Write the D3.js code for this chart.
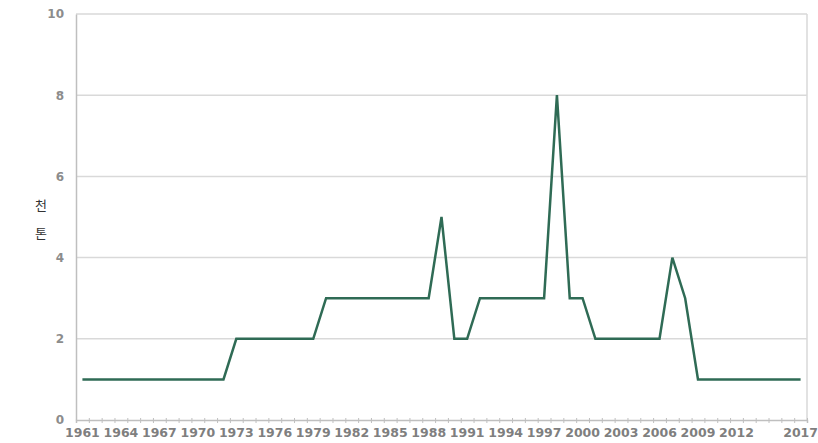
<!DOCTYPE html>
<html>
	<head>
		<meta charset="utf-8">
		<title>천 톤</title>
		<script src="https://cdn.jsdelivr.net/npm/d3@7"></script>
		<style>
			body { margin: 0; background: #fff; }
		</style>
	</head>
	<body>
		<div id='viz'></div>
		<script>
			var width = 818,
				height = 443;
			var years = ['1961','1962','1963','1964','1965','1966','1967','1968','1969','1970',
				'1971','1972','1973','1974','1975','1976','1977','1978','1979','1980',
				'1981','1982','1983','1984','1985','1986','1987','1988','1989','1990',
				'1991','1992','1993','1994','1995','1996','1997','1998','1999','2000',
				'2001','2002','2003','2004','2005','2006','2007','2008','2009','2010',
				'2011','2012','2013','2014','2015','2016','2017'];
			var values = [1,1,1,1,1,1,1,1,1,1,
				1,1,2,2,2,2,2,2,2,3,
				3,3,3,3,3,3,3,3,5,2,
				2,3,3,3,3,3,3,8,3,3,
				2,2,2,2,2,2,4,3,1,1,
				1,1,1,1,1,1,1];
			var xLabels = ['1961','1964','1967','1970','1973','1976','1979','1982','1985',
				'1988','1991','1994','1997','2000','2003','2006','2009','2012','2017'];
			var yTicks = [0,2,4,6,8,10];
			var yTitle = ['천','톤'];

			// plot box (note: "top" is reserved on window, so use mTop)
			var mLeft = 76, mRight = 807, mTop = 14, mBottom = 420;

			var x = d3.scaleBand().domain(years).range([mLeft, mRight]).padding(0);
			var xEdge = d3.scaleLinear().domain([0, years.length]).range([mLeft, mRight]);
			var y = d3.scaleLinear().domain([0, 10]).range([mBottom, mTop]);

			var svg = d3.select('#viz')
				.append('svg')
				.attr('width', width)
				.attr('height', height);

			// gridlines
			svg.append('g')
				.selectAll('line')
				.data(yTicks.filter(d => d > 0))
				.join('line')
				.attr('x1', mLeft).attr('x2', mRight)
				.attr('y1', d => y(d)).attr('y2', d => y(d))
				.attr('stroke', '#d9d9d9')
				.attr('stroke-width', 1.5);

			// right border
			svg.append('line')
				.attr('x1', mRight).attr('x2', mRight)
				.attr('y1', mTop).attr('y2', mBottom)
				.attr('stroke', '#d9d9d9')
				.attr('stroke-width', 1.5);

			// y axis
			var yAxis = svg.append('g')
				.attr('transform', `translate(${mLeft},0)`)
				.call(d3.axisLeft(y).tickValues(yTicks).tickSize(0).tickPadding(12));
			yAxis.select('.domain').attr('stroke', '#bfbfbf').attr('stroke-width', 1.5);
			yAxis.selectAll('text')
				.attr('font-family', 'DejaVu Sans')
				.attr('font-size', 12)
				.attr('font-weight', 'bold')
				.attr('fill', '#8c8c8c');

			// x axis small ticks at category edges
			var xTickAxis = svg.append('g')
				.attr('transform', `translate(0,${mBottom})`)
				.call(d3.axisBottom(xEdge).tickValues(d3.range(0, years.length + 1)).tickSize(3).tickFormat(''));
			xTickAxis.select('.domain').attr('stroke', '#bfbfbf').attr('stroke-width', 1.5);
			xTickAxis.selectAll('.tick line').attr('stroke', '#bfbfbf').attr('y1', -2);

			// x labels
			var xAxis = svg.append('g')
				.attr('transform', `translate(0,${mBottom})`)
				.call(d3.axisBottom(x).tickValues(xLabels).tickSize(0).tickPadding(8));
			xAxis.select('.domain').remove();
			xAxis.selectAll('text')
				.attr('font-family', 'DejaVu Sans')
				.attr('font-size', 12.5)
				.attr('font-weight', 'bold')
				.attr('fill', '#7f7f7f');

			// y title, stacked characters
			svg.append('g')
				.selectAll('text')
				.data(yTitle)
				.join('text')
				.attr('x', 41)
				.attr('y', (d, i) => 210 + i * 28)
				.attr('text-anchor', 'middle')
				.attr('font-size', 13)
				.attr('font-family', 'Noto Sans CJK KR')
				.attr('fill', '#333')
				.text(d => d);

			// line
			var line = d3.line()
				.x((d, i) => x(years[i]) + x.bandwidth() / 2)
				.y(d => y(d));
			svg.append('path')
				.datum(values)
				.attr('fill', 'none')
				.attr('stroke', '#2f6b55')
				.attr('stroke-width', 2.5)
				.attr('stroke-linejoin', 'miter')
				.attr('d', line);
		</script>
	</body>
</html>
